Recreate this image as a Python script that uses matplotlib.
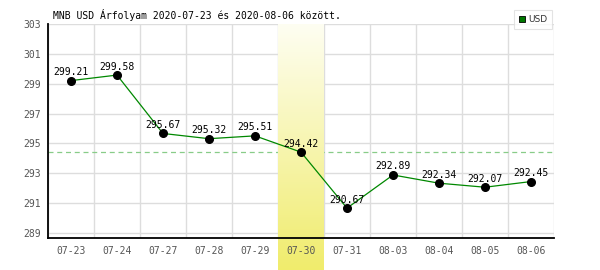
import numpy as np
import matplotlib
matplotlib.use("Agg")
import matplotlib.pyplot as plt
from matplotlib.lines import Line2D
from matplotlib.colors import LinearSegmentedColormap

dates = ["07-23", "07-24", "07-27", "07-28", "07-29", "07-30",
         "07-31", "08-03", "08-04", "08-05", "08-06"]
usd = [299.21, 299.58, 295.67, 295.32, 295.51, 294.42,
       290.67, 292.89, 292.34, 292.07, 292.45]
highlight = "07-30"
ref_level = 294.42
yticks = [289, 291, 293, 295, 297, 299, 301, 303]
title = "MNB USD Árfolyam 2020-07-23 és 2020-08-06 között."

W, H = 600, 270
fig = plt.figure(figsize=(W / 100, H / 100), dpi=100)
fig.patch.set_facecolor("white")
ax = fig.add_axes([48 / W, 1 - 238 / H, (554 - 48) / W, (238 - 24) / H])

mono = "DejaVu Sans Mono"
x = np.arange(len(dates))
ax.set_xlim(-0.5, len(dates) - 0.5)
ax.set_ylim(288.67, 303)

# grid
ax.set_yticks(yticks)
ax.set_yticklabels([str(t) for t in yticks], family=mono, fontsize=7, color="#555555")
ax.set_xticks(x)
ax.set_xticklabels([])
ax.set_xticks(np.arange(-0.5, len(dates), 1.0), minor=True)
ax.tick_params(axis="both", which="both", length=0)
ax.tick_params(axis="y", pad=5)
ax.grid(True, axis="y", which="major", color="#dddddd", lw=1)
ax.grid(True, axis="x", which="minor", color="#dddddd", lw=1)
ax.grid(False, axis="x", which="major")
ax.set_axisbelow(True)

for s in ["top", "right"]:
    ax.spines[s].set_visible(False)
for s in ["left", "bottom"]:
    ax.spines[s].set_linewidth(1.3)
    ax.spines[s].set_color("black")

# x tick labels drawn above the highlight band
xform = ax.get_xaxis_transform()
for xi, d in zip(x, dates):
    ax.annotate(d, (xi, 0), xycoords=xform, xytext=(0, -6),
                textcoords="offset points", ha="center", va="top",
                family=mono, fontsize=7, color="#555555",
                annotation_clip=False, zorder=5)

# reference dashed line
ax.axhline(ref_level, color="#88cc88", lw=0.9, ls=(0, (4, 3)), zorder=0.8)

# highlighted band with gradient, extends to figure bottom
hi = dates.index(highlight)
fig_bottom = ax.transData.inverted().transform(fig.transFigure.transform((0, 0)))[1]
cmap = LinearSegmentedColormap.from_list("band", ["#fefef2", "#f0ec6c"])
grad = np.linspace(0, 1, 256).reshape(-1, 1)
ax.imshow(grad, cmap=cmap, aspect="auto", origin="upper",
          extent=[hi - 0.5, hi + 0.5, fig_bottom, 303],
          clip_on=False, zorder=1, interpolation="bilinear")
ax.set_xlim(-0.5, len(dates) - 0.5)
ax.set_ylim(288.67, 303)

# data line
ax.plot(x, usd, color="#008800", lw=0.9, zorder=2)
ax.plot(x, usd, "o", color="black", ms=5.5, zorder=3)
for xi, v in zip(x, usd):
    ax.annotate(f"{v:.2f}", (xi, v), xytext=(0, 4), textcoords="offset points",
                ha="center", va="baseline", family=mono, fontsize=7,
                color="black", zorder=4)

fig.text(53 / W, 1 - 15 / H, title, family=mono, fontsize=7, va="center",
         ha="left", color="black")

handle = Line2D([], [], marker="s", ls="none", markerfacecolor="#007700",
                markeredgecolor="black", markeredgewidth=0.6, markersize=5)
leg = fig.legend([handle], ["USD"], loc="upper right",
                 bbox_to_anchor=(552 / W, 1 - 10 / H), frameon=True,
                 fancybox=False, edgecolor="#dddddd", fontsize=6.5,
                 handlelength=0.7, handletextpad=0.3, borderpad=0.55,
                 borderaxespad=0)
leg.get_frame().set_linewidth(0.8)
for t in leg.get_texts():
    t.set_color("#333333")

fig.savefig("out.png", dpi=100)
